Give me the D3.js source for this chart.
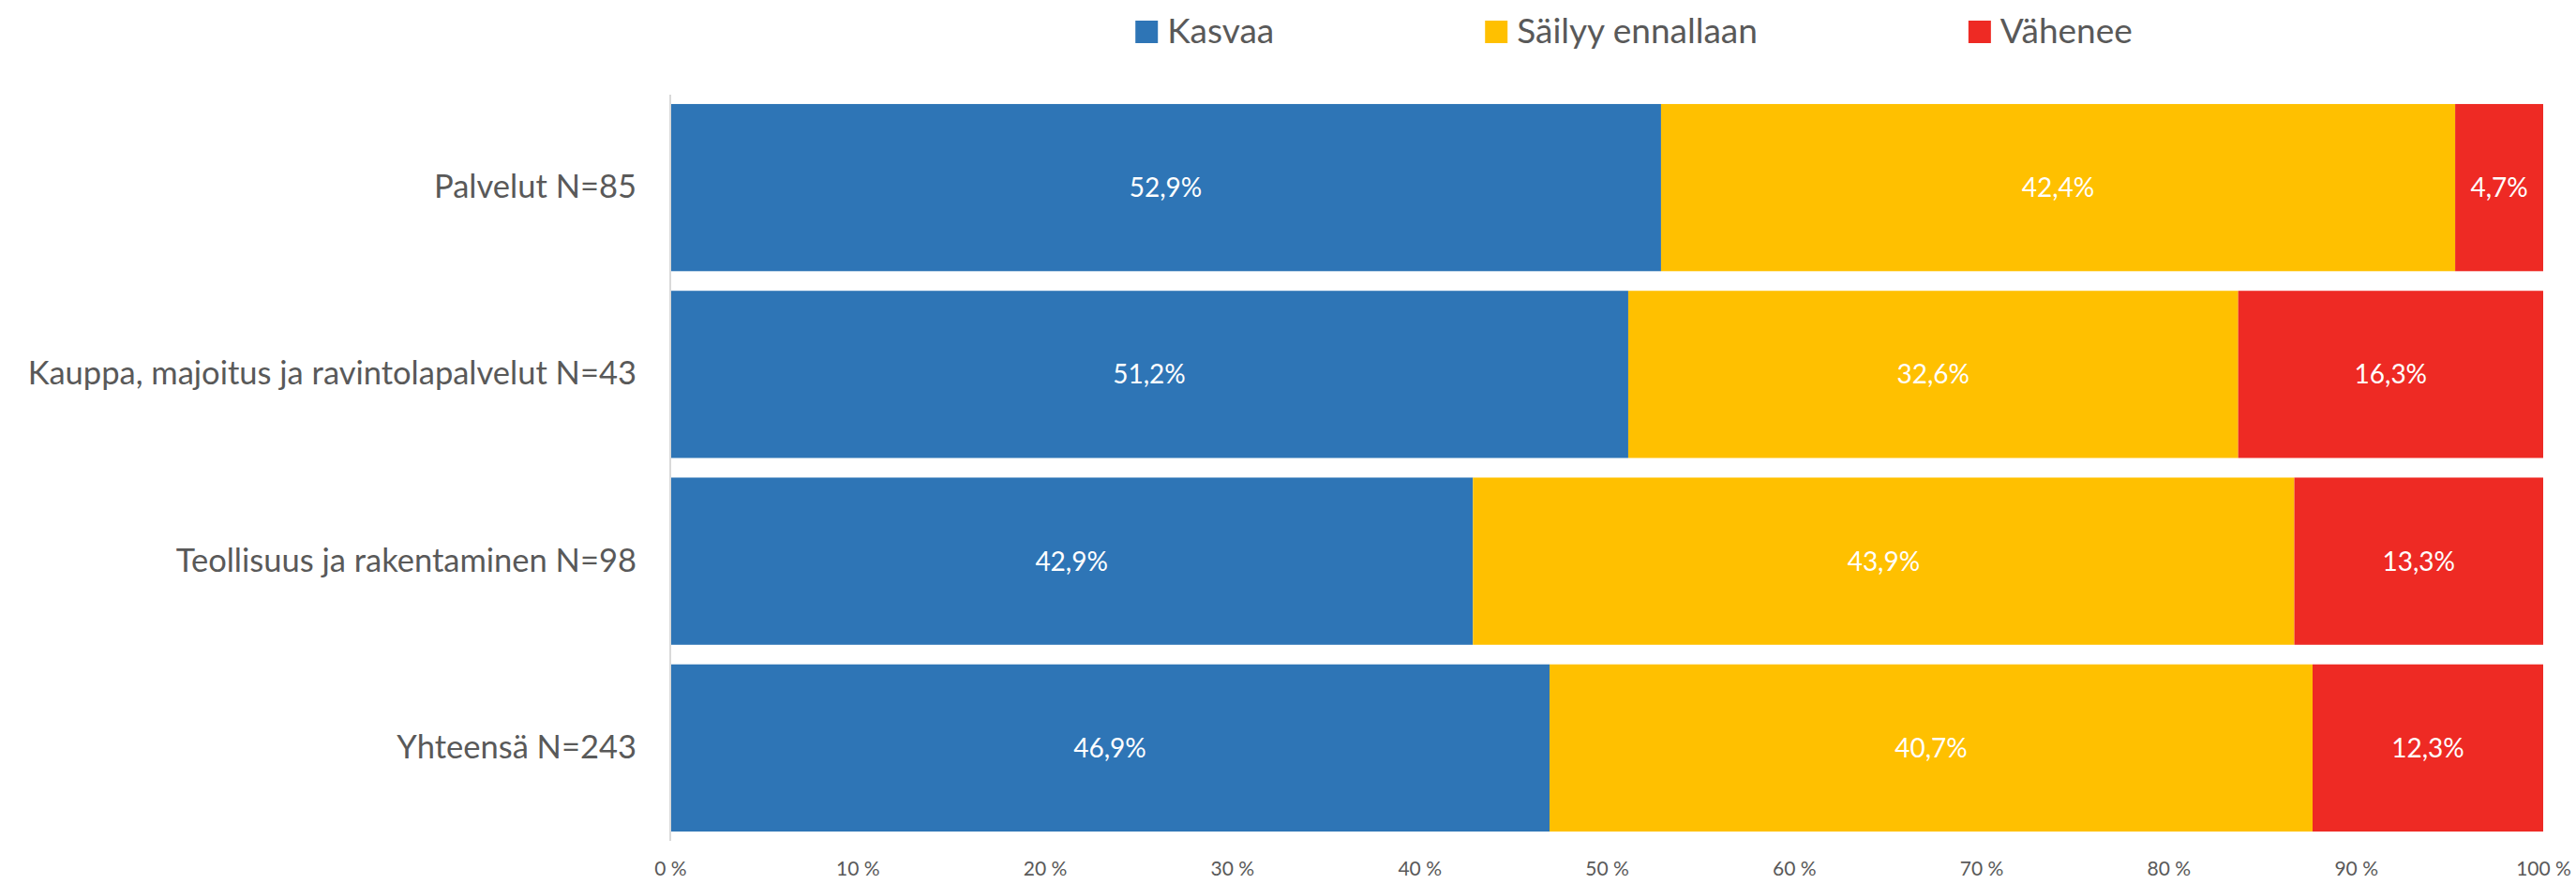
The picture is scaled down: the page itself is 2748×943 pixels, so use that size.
<!DOCTYPE html>
<html>
<head>
<meta charset="utf-8">
<script src="https://cdn.jsdelivr.net/npm/d3@7"></script>
<style>
  body { margin: 0; background: #fff; }
  text { font-family: Lato, "Open Sans", sans-serif; }
</style>
</head>
<body>
<div id="chart"></div>
<script>
// categories top to bottom
var categories = ["Palvelut N=85", "Kauppa, majoitus ja ravintolapalvelut N=43", "Teollisuus ja rakentaminen N=98", "Yhteensä N=243"];
var seriesNames = ["Kasvaa", "Säilyy ennallaan", "Vähenee"];
var kasvaa = [52.9, 51.2, 42.9, 46.9];
var sailyy = [42.4, 32.6, 43.9, 40.7];
var vahenee = [4.7, 16.3, 13.3, 12.3];
var tickValues = [0, 0.1, 0.2, 0.3, 0.4, 0.5, 0.6, 0.7, 0.8, 0.9, 1];
var colors = ["#2E75B6", "#FFC000", "#EE2A24"];

var width = 2748;
var height = 943;
var plotLeft = 715, plotRight = 2713, plotTop = 101, plotBottom = 897;

var rows = categories.map(function (c, i) {
    return { cat: c, "Kasvaa": kasvaa[i], "Säilyy ennallaan": sailyy[i], "Vähenee": vahenee[i] };
});

// 100% stacked, like the original
var stacked = d3.stack().keys(seriesNames).offset(d3.stackOffsetExpand)(rows);

var svg = d3.select("#chart")
    .append("svg")
    .attr("width", width)
    .attr("height", height);

var x = d3.scaleLinear().domain([0, 1]).range([plotLeft, plotRight]);
var y = d3.scaleBand().domain(categories).range([plotTop, plotBottom]).paddingInner(0.105).paddingOuter(0.05);

// bars
var layers = svg.selectAll(".layer")
    .data(stacked)
    .enter().append("g")
    .attr("fill", function (d, i) { return colors[i]; });

layers.selectAll("rect")
    .data(function (d) { return d; })
    .enter().append("rect")
    .attr("x", function (d) { return x(d[0]); })
    .attr("y", function (d) { return y(d.data.cat); })
    .attr("width", function (d) { return x(d[1]) - x(d[0]); })
    .attr("height", y.bandwidth());

// value labels
stacked.forEach(function (layer) {
    svg.append("g").selectAll("text")
        .data(layer)
        .enter().append("text")
        .attr("x", function (d) { return (x(d[0]) + x(d[1])) / 2; })
        .attr("y", function (d) { return y(d.data.cat) + y.bandwidth() / 2; })
        .attr("dy", "0.36em")
        .attr("text-anchor", "middle")
        .attr("fill", "#fff")
        .attr("font-size", 28)
        .text(function (d) { return d.data[layer.key].toFixed(1).replace(".", ",") + "%"; });
});

// category axis
var yAxis = svg.append("g")
    .attr("transform", "translate(" + plotLeft + ",0)")
    .call(d3.axisLeft(y).tickSize(0).tickPadding(36));
yAxis.select(".domain").remove();
yAxis.append("line")
    .attr("x1", 0).attr("x2", 0)
    .attr("y1", plotTop).attr("y2", plotBottom)
    .attr("stroke", "#d9d9d9")
    .attr("stroke-width", 2);
yAxis.selectAll(".tick text")
    .attr("font-size", 34.5)
    .attr("font-family", "Lato, 'Open Sans', sans-serif")
    .attr("fill", "#595959");

// value axis
var xAxis = svg.append("g")
    .attr("transform", "translate(0," + plotBottom + ")")
    .call(d3.axisBottom(x).tickValues(tickValues).tickSize(0).tickPadding(22)
        .tickFormat(function (d) { return Math.round(d * 100) + " %"; }));
xAxis.select(".domain").remove();
xAxis.selectAll(".tick text")
    .attr("font-size", 21)
    .attr("font-family", "Lato, 'Open Sans', sans-serif")
    .attr("fill", "#595959");

// legend
var legend = svg.append("g");
var items = legend.selectAll("g")
    .data(seriesNames)
    .enter().append("g");
items.append("rect")
    .attr("y", 22)
    .attr("width", 24)
    .attr("height", 24)
    .attr("fill", function (d, i) { return colors[i]; });
items.append("text")
    .attr("x", 34)
    .attr("y", 46)
    .attr("font-size", 37)
    .attr("fill", "#595959")
    .text(function (d) { return d; });

var pos = 0;
var offsets = [];
items.each(function () {
    offsets.push(pos);
    var w = this.querySelector("text").getComputedTextLength();
    pos += 34 + w + 225;
});
var total = pos - 225;
var startX = 1743 - total / 2;
items.attr("transform", function (d, i) { return "translate(" + (startX + offsets[i]) + ",0)"; });
</script>
</body>
</html>
